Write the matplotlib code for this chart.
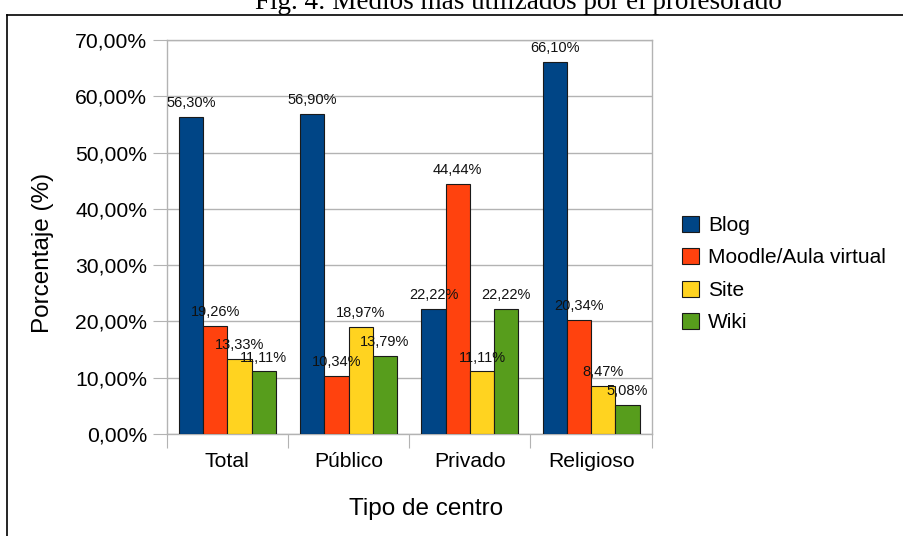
import numpy as np
import matplotlib
matplotlib.use('Agg')
import matplotlib.pyplot as plt
from matplotlib.lines import Line2D
from matplotlib.ticker import FuncFormatter, FixedLocator, NullFormatter

plt.rcParams['font.family'] = ['Liberation Sans', 'DejaVu Sans']

categories = ['Total', 'Público', 'Privado', 'Religioso']
series_names = ['Blog', 'Moodle/Aula virtual', 'Site', 'Wiki']
blog = [56.30, 56.90, 22.22, 66.10]
moodle = [19.26, 10.34, 44.44, 20.34]
site = [13.33, 18.97, 11.11, 8.47]
wiki = [11.11, 13.79, 22.22, 5.08]
colors = ['#004586', '#ff420e', '#ffd320', '#579d1c']

title = 'Fig. 4: Medios más utilizados por el profesorado'


def pct(v, decimals=2):
    return ('%.*f%%' % (decimals, v)).replace('.', ',')


W, H = 904, 536
fig = plt.figure(figsize=(W / 100, H / 100), dpi=100)
ax = fig.add_axes([166.7 / W, 1 - 434 / H, 485 / W, 394 / H])

x = np.arange(len(categories))
bw = 0.2
for i, (vals, name) in enumerate(zip([blog, moodle, site, wiki], series_names)):
    xs = x - 0.3 + i * bw
    ax.bar(xs, vals, bw, color=colors[i], edgecolor='#1a1a1a',
           linewidth=0.8, label=name, zorder=3)
    for xx, v in zip(xs, vals):
        ax.annotate(pct(v), (xx, v), xytext=(0, 5), textcoords='offset points',
                    ha='center', va='bottom', fontsize=10.5, color='#111111',
                    zorder=4)

ax.set_xlim(-0.5, len(categories) - 0.5)
ax.set_ylim(0, 70)
ax.set_yticks(np.arange(0, 71, 10))
ax.yaxis.set_major_formatter(FuncFormatter(lambda v, p: pct(v)))
ax.tick_params(axis='y', labelsize=15.2, length=10, color='#b3b3b3', pad=4)

# category ticks sit between groups, labels centred on groups
ax.xaxis.set_major_locator(FixedLocator(np.arange(-0.5, len(categories), 1.0)))
ax.xaxis.set_major_formatter(NullFormatter())
ax.xaxis.set_minor_locator(FixedLocator(x))
ax.set_xticklabels(categories, minor=True)
ax.tick_params(axis='x', which='major', length=10, color='#b3b3b3')
ax.tick_params(axis='x', which='minor', length=0, labelsize=15.2, pad=13)

ax.yaxis.grid(True, color='#b3b3b3', linewidth=1.0, zorder=0)
ax.set_axisbelow(True)
for s in ax.spines.values():
    s.set_color('#b3b3b3')
    s.set_linewidth(1.0)

fig.text(43 / W, 1 - 253 / H, 'Porcentaje (%)', rotation=90, fontsize=17.5,
         ha='center', va='center')
fig.text(426 / W, 1 - 509 / H, 'Tipo de centro', fontsize=17.5,
         ha='center', va='center')

fig.legend(loc='center left', bbox_to_anchor=(682 / W, 1 - 274 / H),
           frameon=False, fontsize=15, handlelength=0.8, handleheight=0.8,
           handletextpad=0.45, labelspacing=0.63, borderpad=0, borderaxespad=0)

# page title (cut at top) and frame lines around the chart
fig.text(518 / W, 1 - 9 / H, title, fontsize=19.5, family='Liberation Serif',
         ha='center', va='baseline')
fig.add_artist(Line2D([7 / W, 7 / W], [0, 1 - 15 / H], color='black',
                      linewidth=1.2, transform=fig.transFigure))
fig.add_artist(Line2D([7 / W, 1], [1 - 15 / H, 1 - 15 / H], color='black',
                      linewidth=1.2, transform=fig.transFigure))

fig.savefig('out.png', dpi=100)
